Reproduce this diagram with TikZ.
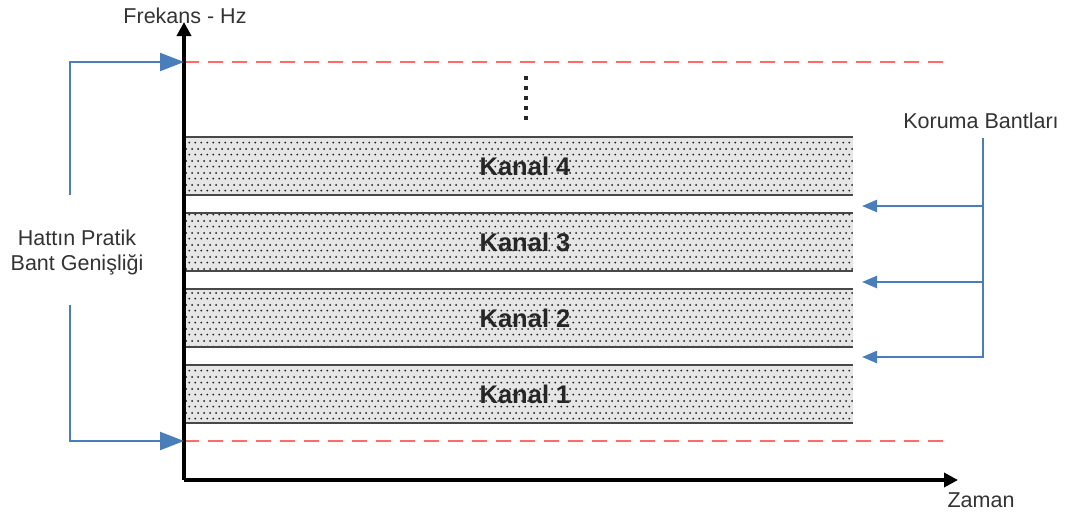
\documentclass[tikz,border=0pt]{standalone}
\usepackage{fontspec}
\setmainfont{Liberation Sans}
\usetikzlibrary{arrows.meta,patterns.meta}
\definecolor{bluel}{HTML}{4A7EBB}
\definecolor{redd}{HTML}{FF6B6B}
\definecolor{chgray}{HTML}{E6E6E6}
\definecolor{chedge}{HTML}{484848}
\tikzdeclarepattern{
  name=kdots,
  type=uncolored,
  bottom left={(0pt,0pt)},
  top right={(5.7pt,12pt)},
  tile size={(5.7pt,12pt)},
  code={
    \fill (1.4pt,1.5pt) circle (1.05pt);
    \fill (4.25pt,7.5pt) circle (1.05pt);
  }
}
\tikzset{
  lbl/.style={font=\fontsize{21.5}{25}\selectfont, text=black!80, inner sep=0pt},
  kanal/.style={font=\fontsize{25.5}{28}\selectfont\bfseries, text=black!85, inner sep=0pt},
  axis/.style={line width=3.6pt, black, -{Triangle[length=14pt,width=14pt]}},
  chline/.style={line width=2.8pt, chedge},
  reddash/.style={line width=2.8pt, redd, dash pattern=on 15pt off 9pt},
  bline/.style={line width=2.3pt, bluel},
  bigtip/.style={-{Triangle[length=24pt,width=18pt]}},
  smalltip/.style={-{Triangle[length=15pt,width=12pt]}},
}
\begin{document}
\begin{tikzpicture}[x=1pt,y=-1pt]
\useasboundingbox (0,0) rectangle (1070,515);
% channels
\foreach \t/\n in {137/4,213/3,289/2,365/1}{
  \fill[chgray] (184,\t) rectangle (853,\t+58);
  \fill[pattern=kdots, pattern color=black!90] (184,\t) rectangle (853,\t+58);
  \draw[chline] (184,\t) -- (853,\t);
  \draw[chline] (184,\t+58) -- (853,\t+58);
  \node[kanal] (k\n) at (525,\t+29) {Kanal \n};
}
% red dashed limits
\coordinate (ta) at (184,62);
\coordinate (tb) at (184,441);
\coordinate (tae) at (945,62);
\coordinate (tbe) at (945,441);
\draw[reddash] (ta) -- (tae);
\draw[reddash] (tb) -- (tbe);
% vertical dots
\draw[line width=4pt, black!85, dash pattern=on 4pt off 6pt] (526,76.3) -- (526,124);
% axes
\coordinate (O) at (184,480);
\coordinate (ytop) at (184,22);
\coordinate (xend) at (958,480);
\draw[axis] (O) -- (ytop);
\draw[axis] (O) -- (xend);
\node[lbl, anchor=base] (fr) at (185,23) {Frekans - Hz};
\node[lbl, anchor=base] (za) at (981,507) {Zaman};
% left bracket
\node[lbl, align=center, anchor=base] (hb) at (77,270) {Hattın Pratik\\Bant Genişliği};
\coordinate (l1) at (70,195);
\coordinate (l2) at (70,305);
\draw[bline, bigtip] (l1) |- (ta);
\draw[bline, bigtip] (l2) |- (tb);
% right bracket
\node[lbl, anchor=base] (kb) at (981,128) {Koruma Bantları};
\coordinate (r0) at (983,138);
\coordinate (g1) at (862,206);
\coordinate (g2) at (862,282);
\coordinate (g3) at (862,357);
\coordinate (r1) at (983,206);
\coordinate (r2) at (983,282);
\draw[bline, smalltip] (r0) |- (g3);
\draw[bline, smalltip] (r1) -- (g1);
\draw[bline, smalltip] (r2) -- (g2);
\end{tikzpicture}
\end{document}
